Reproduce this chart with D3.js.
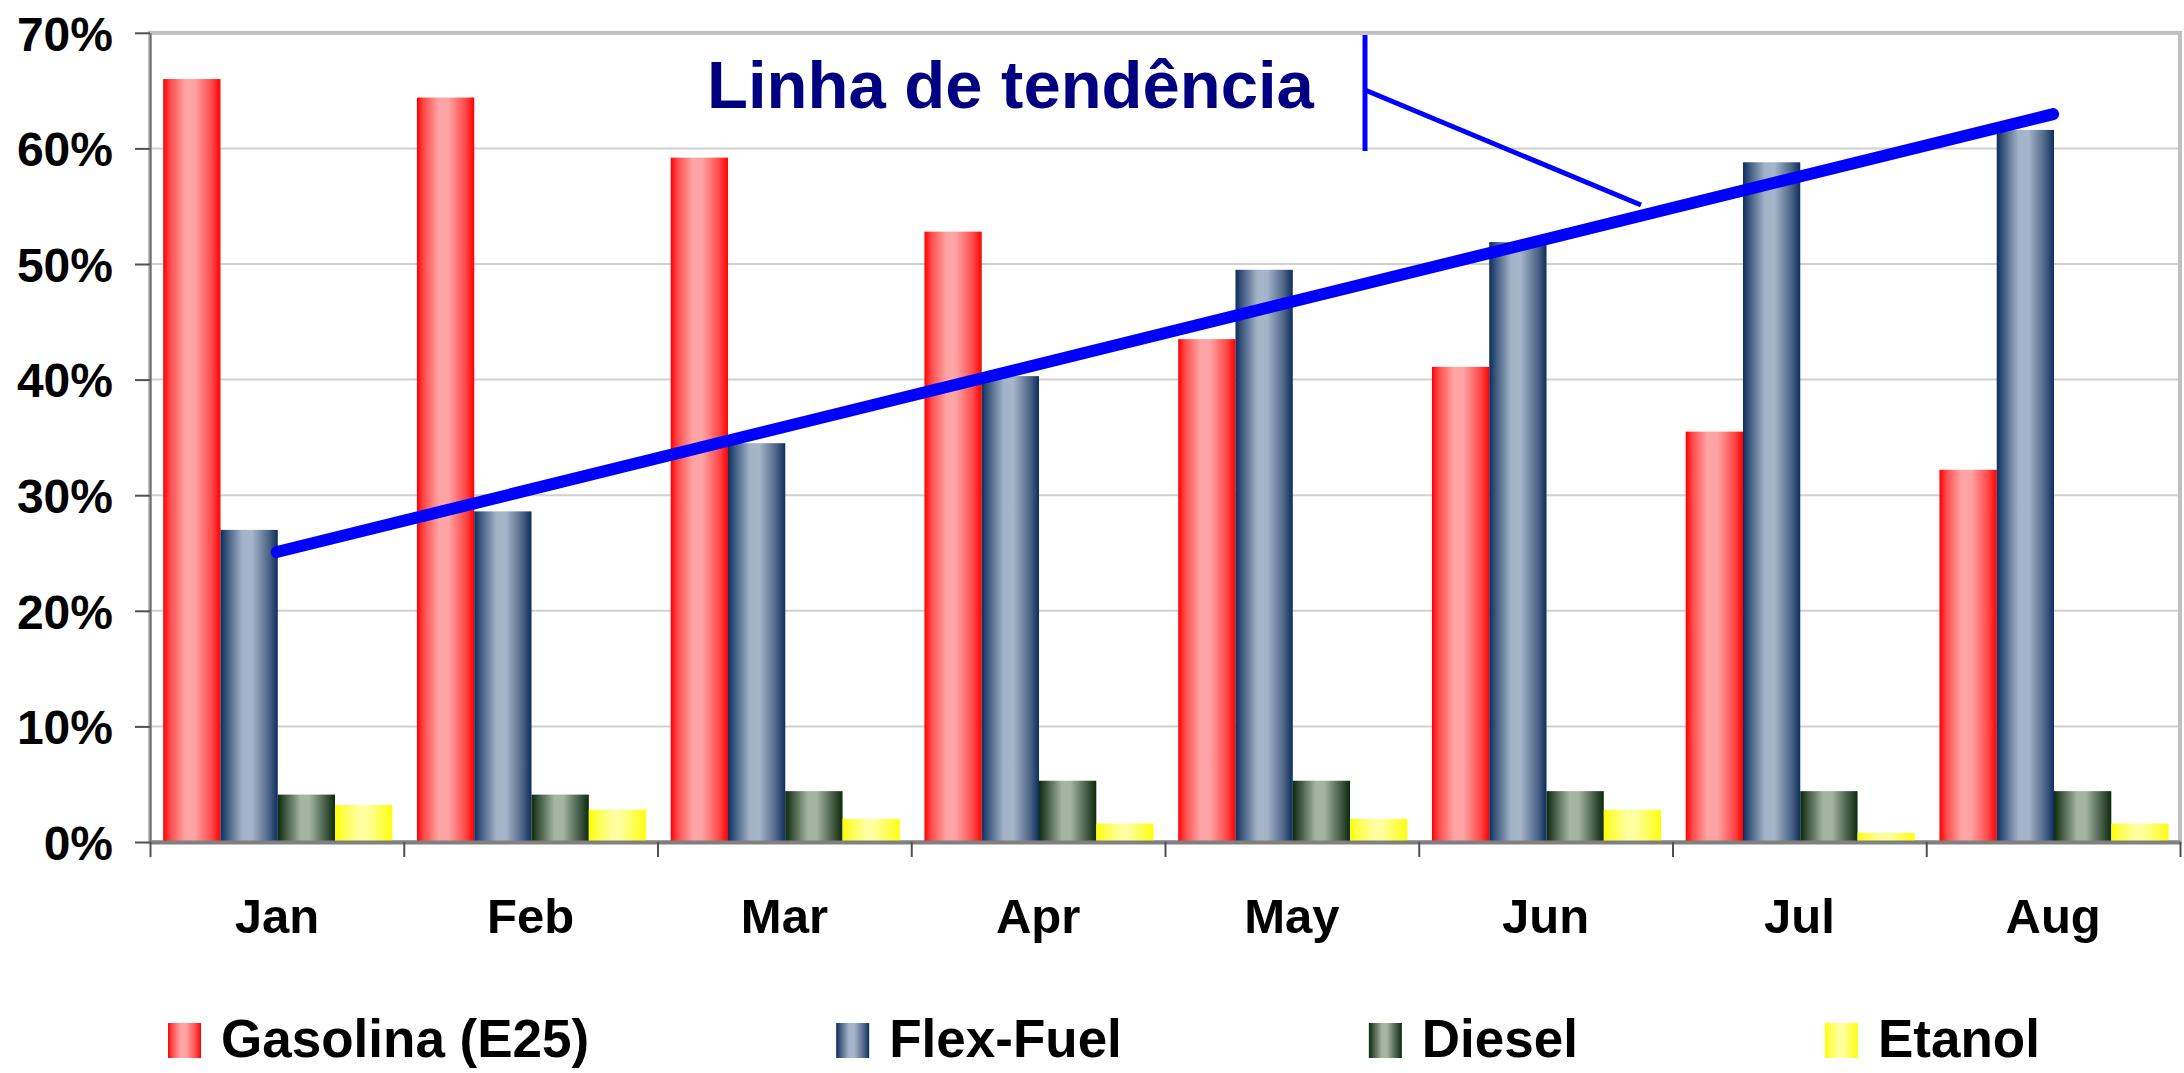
<!DOCTYPE html>
<html>
<head>
<meta charset="utf-8">
<title>Vendas por combustivel</title>
<script src="https://cdn.jsdelivr.net/npm/d3@7/dist/d3.min.js"></script>
<style>
  body { margin: 0; background: #fff; }
  text { font-family: "Liberation Sans", Arial, sans-serif; font-weight: bold; }
</style>
</head>
<body>
<script>
// data (share of sales, %)
var months   = ["Jan", "Feb", "Mar", "Apr", "May", "Jun", "Jul", "Aug"];
var series   = ["Gasolina (E25)", "Flex-Fuel", "Diesel", "Etanol"];
var gasolina = [66.0, 64.4, 59.2, 52.8, 43.5, 41.1, 35.5, 32.2];
var flexFuel = [27.0, 28.6, 34.5, 40.3, 49.5, 51.9, 58.8, 61.6];
var diesel   = [4.1, 4.1, 4.4, 5.3, 5.3, 4.4, 4.4, 4.4];
var etanol   = [3.2, 2.8, 2.0, 1.6, 2.0, 2.8, 0.8, 1.6];
var yTicks   = [0, 10, 20, 30, 40, 50, 60, 70];
var trendLabel = "Linha de tendência";

var values = [gasolina, flexFuel, diesel, etanol];

// gradient stops per series: edge, light centre, edge
var gradients = [
  [["0%", "#ff0000"], ["12%", "#ff4a4a"], ["38%", "#ffa4a4"], ["55%", "#ffa4a4"], ["85%", "#ff4848"], ["100%", "#ff0000"]],
  [["0%", "#0e2d5e"], ["12%", "#3f5a80"], ["38%", "#a2b3c8"], ["55%", "#a6b6ca"], ["85%", "#4a6285"], ["100%", "#0e2d5e"]],
  [["0%", "#0b2a0b"], ["12%", "#3a523a"], ["40%", "#a4b6a0"], ["55%", "#a4b6a0"], ["85%", "#3f5640"], ["100%", "#0b2a0b"]],
  [["0%", "#ffff00"], ["12%", "#ffff40"], ["40%", "#ffff9c"], ["55%", "#ffffa0"], ["85%", "#ffff40"], ["100%", "#ffff10"]]
];

var width = 2184, height = 1073;
var plotLeft = 150, plotRight = 2180, plotTop = 32.8, plotBottom = 842;

var svg = d3.select("body").append("svg")
    .attr("width", width)
    .attr("height", height);

var defs = svg.append("defs");
gradients.forEach(function(stops, i) {
  var g = defs.append("linearGradient")
      .attr("id", "grad" + i)
      .attr("x1", "0%").attr("x2", "100%")
      .attr("y1", "0%").attr("y2", "0%");
  stops.forEach(function(s) {
    g.append("stop").attr("offset", s[0]).attr("stop-color", s[1]);
  });
});

var x0 = d3.scaleBand().domain(months).range([plotLeft, plotRight]);
var x1 = d3.scaleBand().domain(d3.range(series.length))
    .range([x0.bandwidth() * 0.052, x0.bandwidth() * 0.955]);
var y = d3.scaleLinear().domain([0, 70]).range([plotBottom, plotTop]);

// gridlines
svg.append("g")
  .selectAll("line")
  .data(yTicks.slice(1, -1))
  .enter().append("line")
    .attr("x1", plotLeft).attr("x2", plotRight)
    .attr("y1", function(d) { return y(d); })
    .attr("y2", function(d) { return y(d); })
    .attr("stroke", "#d0d0d0")
    .attr("stroke-width", 2);

// plot frame
svg.append("rect")
    .attr("x", plotLeft).attr("y", y(70))
    .attr("width", plotRight - plotLeft).attr("height", y(0) - y(70))
    .attr("fill", "none")
    .attr("stroke", "#c0c0c0")
    .attr("stroke-width", 4);

// bars
var groups = svg.append("g")
  .selectAll("g")
  .data(months)
  .enter().append("g")
    .attr("transform", function(d) { return "translate(" + x0(d) + ",0)"; });

groups.selectAll("rect")
  .data(function(d, i) { return values.map(function(v, s) { return {s: s, v: v[i]}; }); })
  .enter().append("rect")
    .attr("x", function(d) { return x1(d.s); })
    .attr("width", x1.bandwidth())
    .attr("y", function(d) { return y(d.v); })
    .attr("height", function(d) { return y(0) - y(d.v); })
    .attr("fill", function(d) { return "url(#grad" + d.s + ")"; });

// y axis
var yAxis = svg.append("g")
    .attr("transform", "translate(" + plotLeft + ",0)")
    .call(d3.axisLeft(y).tickValues(yTicks).tickSize(15).tickSizeOuter(0).tickPadding(22)
      .tickFormat(function(d) { return d + "%"; }));
yAxis.select(".domain").attr("stroke", "#707070").attr("stroke-width", 2);
yAxis.selectAll(".tick line").attr("stroke", "#505050").attr("stroke-width", 2);
yAxis.selectAll("text")
    .attr("fill", "#000")
    .attr("font-size", 48)
    .attr("dy", "0.36em");

// x axis: ticks on category boundaries
var xb = d3.scaleLinear().domain([0, months.length]).range([plotLeft, plotRight]);
var xAxis = svg.append("g")
    .attr("transform", "translate(0," + plotBottom + ")")
    .call(d3.axisBottom(xb).tickValues(d3.range(months.length + 1)).tickSize(15)
      .tickSizeOuter(0).tickFormat(""));
xAxis.select(".domain").attr("stroke", "#808080").attr("stroke-width", 4);
xAxis.selectAll(".tick line").attr("stroke", "#505050").attr("stroke-width", 2);

var xLabels = svg.append("g")
    .attr("transform", "translate(0," + plotBottom + ")")
    .call(d3.axisBottom(x0).tickSize(0).tickPadding(56));
xLabels.select(".domain").remove();
xLabels.selectAll("text")
    .attr("fill", "#000")
    .attr("font-size", 49);

// trend line: least squares fit of Flex-Fuel
var idx = d3.range(flexFuel.length);
var mx = d3.mean(idx), my = d3.mean(flexFuel);
var slope = d3.sum(idx, function(i) { return (i - mx) * (flexFuel[i] - my); }) /
            d3.sum(idx, function(i) { return (i - mx) * (i - mx); });
var trend = [0, idx.length - 1].map(function(i) { return [i, my + slope * (i - mx)]; });

svg.append("path")
    .datum(trend)
    .attr("d", d3.line()
      .x(function(d) { return x0(months[d[0]]) + x0.bandwidth() / 2; })
      .y(function(d) { return y(d[1]); }))
    .attr("fill", "none")
    .attr("stroke", "#0000ff")
    .attr("stroke-width", 12)
    .attr("stroke-linecap", "round");

// callout
var callout = svg.append("g").attr("stroke", "#0000ff").attr("stroke-width", 5);
callout.append("line").attr("x1", 1365).attr("x2", 1365).attr("y1", 35).attr("y2", 151);
callout.append("line").attr("x1", 1365).attr("y1", 90).attr("x2", 1641).attr("y2", 205);

svg.append("text")
    .attr("x", 707).attr("y", 108)
    .attr("font-size", 67)
    .attr("fill", "#000080")
    .text(trendLabel);

// legend
var legend = svg.append("g");
var lx = 168;
series.forEach(function(name, i) {
  legend.append("rect")
      .attr("x", lx).attr("y", 1023)
      .attr("width", 33).attr("height", 35)
      .attr("fill", "url(#grad" + i + ")");
  var t = legend.append("text")
      .attr("x", lx + 53).attr("y", 1057)
      .attr("font-size", 53)
      .attr("fill", "#000")
      .text(name);
  lx = lx + 53 + t.node().getComputedTextLength() + 247;
});
</script>
</body>
</html>
